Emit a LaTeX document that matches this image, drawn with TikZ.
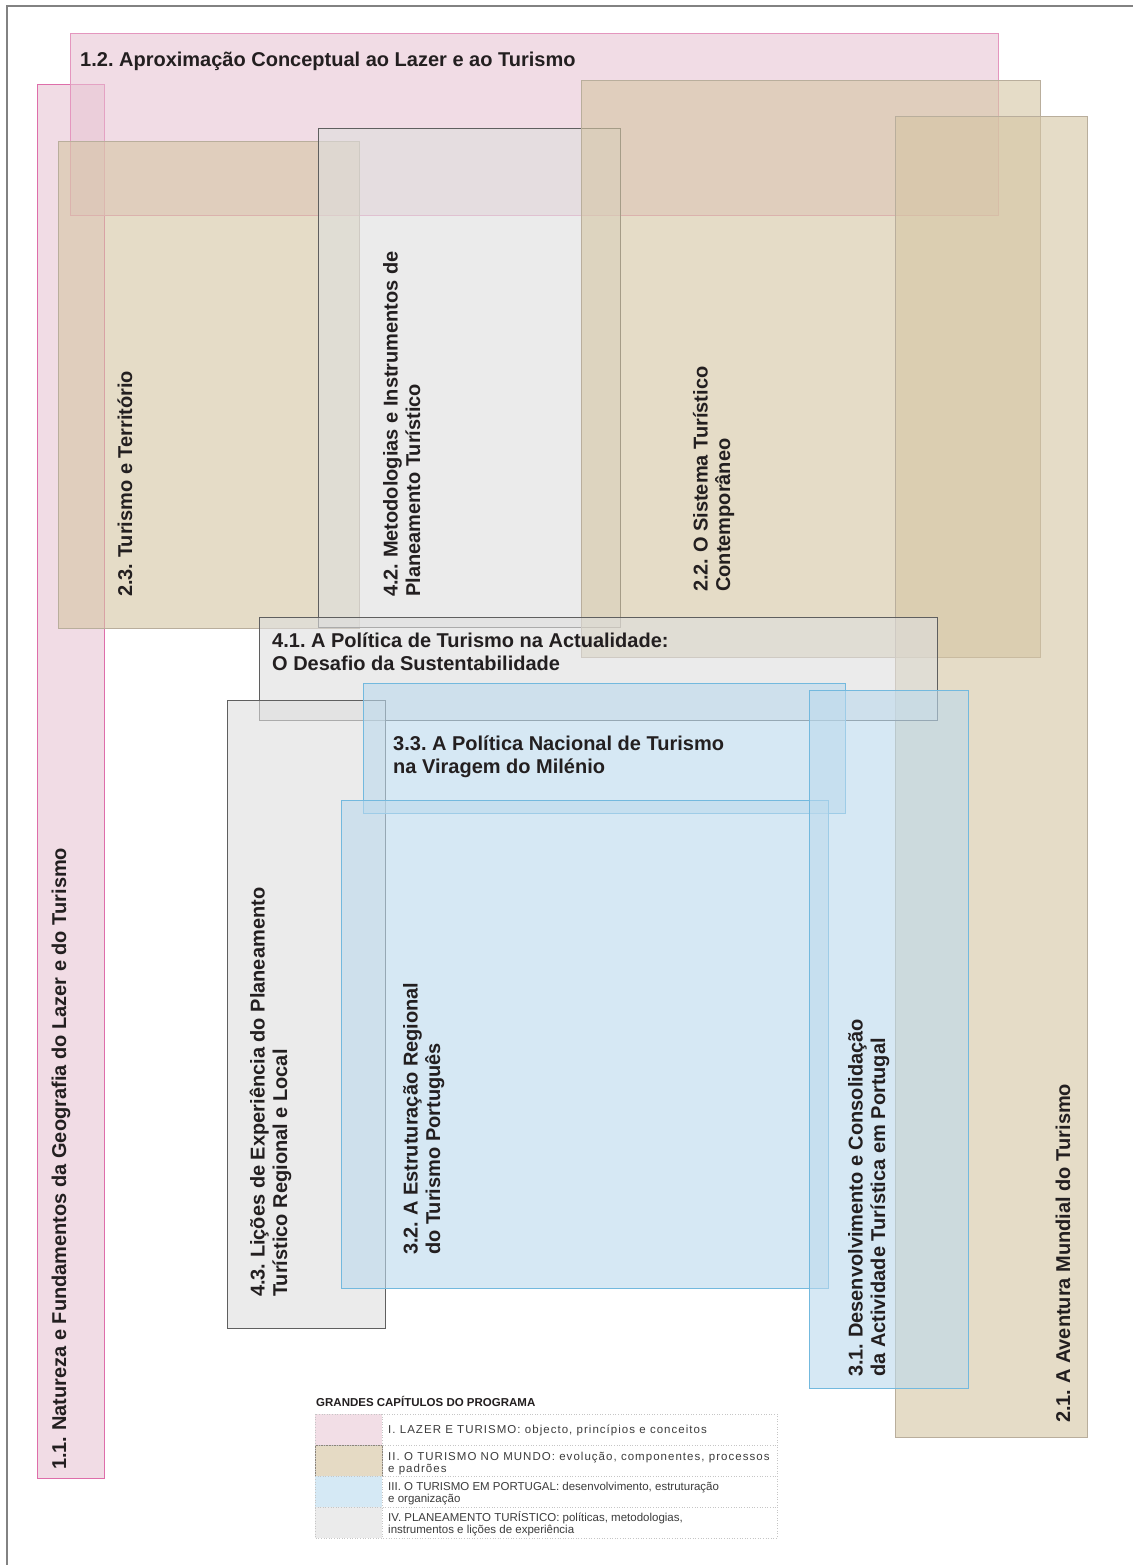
\documentclass[tikz,border=0pt]{standalone}
\usepackage{fontspec}
\setmainfont{Liberation Sans}
\frenchspacing
\definecolor{pinkF}{RGB}{232,198,212}
\definecolor{pinkD}{RGB}{228,150,190}
\definecolor{pinkDD}{RGB}{222,110,170}
\definecolor{tanF}{RGB}{213,197,163}
\definecolor{tanD}{RGB}{185,174,156}
\definecolor{blueF}{RGB}{188,218,237}
\definecolor{blueD}{RGB}{115,185,222}
\definecolor{grayF}{RGB}{222,222,222}
\definecolor{grayD}{RGB}{95,95,95}
\definecolor{txt}{RGB}{35,31,32}
\definecolor{legtxt}{RGB}{60,60,60}
\definecolor{frame}{RGB}{130,130,130}
\begin{document}
\begin{tikzpicture}[x=1pt,y=-1pt,
  box/.style={draw, line width=0.9pt, inner sep=0pt, outer sep=0pt, anchor=north west, fill opacity=0.6},
  lab/.style={font=\fontsize{20}{22.5}\selectfont\bfseries, text=txt, inner sep=0pt, align=left},
  vlab/.style={lab, rotate=90, anchor=base west},
  hlab/.style={lab, anchor=base west},
  swatch/.style={inner sep=0pt, outer sep=0pt, anchor=north west, minimum width=67pt, minimum height=31pt},
  legt/.style={font=\fontsize{11.5}{12}\selectfont, text=legtxt, inner sep=0pt, anchor=base west, align=left},
  spaced/.style={font=\fontsize{11.5}{12}\selectfont\addfontfeature{LetterSpace=9}}
]
\useasboundingbox (0,0) rectangle (1133,1565);
\fill[white] (0,0) rectangle (1133,1565);
\draw[frame, line width=1.2pt] (7,1565) -- (7,6) -- (1133,6);

% boxes
\node[box, fill=pinkF, draw=pinkDD, minimum width=67pt, minimum height=1394pt] (b11) at (37,84) {};
\node[box, fill=pinkF, draw=pinkD, minimum width=928pt, minimum height=182pt] (b12) at (70,33) {};
\node[box, fill=tanF, draw=tanD, minimum width=301pt, minimum height=487pt] (b23) at (58,141) {};
\node[box, fill=grayF, draw=grayD, minimum width=302pt, minimum height=499pt] (b42) at (318,128) {};
\node[box, fill=tanF, draw=tanD, minimum width=459pt, minimum height=577pt] (b22) at (581,80) {};
\node[box, fill=tanF, draw=tanD, minimum width=192pt, minimum height=1321pt] (b21) at (895,116) {};
\node[box, fill=grayF, draw=grayD, minimum width=678pt, minimum height=103pt] (b41) at (259,617) {};
\node[box, fill=grayF, draw=grayD, minimum width=158pt, minimum height=628pt] (b43) at (227,700) {};
\node[box, fill=blueF, draw=blueD, minimum width=482pt, minimum height=130pt] (b33) at (363,683) {};
\node[box, fill=blueF, draw=blueD, minimum width=487pt, minimum height=488pt] (b32) at (341,800) {};
\node[box, fill=blueF, draw=blueD, minimum width=159pt, minimum height=698pt] (b31) at (809,690) {};

% labels (anchor = baseline of the last line)
\node[hlab] (t12) at (80,67) {1.2. Aproximação Conceptual ao Lazer e ao Turismo};
\node[vlab] (t11) at (66,1470) {1.1. Natureza e Fundamentos da Geografia do Lazer e do Turismo};
\node[vlab] (t23) at (132,597) {2.3. Turismo e Território};
\node[vlab] (t42) at (420,597) {4.2. Metodologias e Instrumentos de\\Planeamento Turístico};
\node[vlab] (t22) at (730,592) {2.2. O Sistema Turístico\\Contemporâneo};
\node[hlab] (t41) at (272,670) {4.1. A Política de Turismo na Actualidade:\\O Desafio da Sustentabilidade};
\node[hlab] (t33) at (393,773) {3.3. A Política Nacional de Turismo\\na Viragem do Milénio};
\node[vlab] (t43) at (287,1297) {4.3. Lições de Experiência do Planeamento\\Turístico Regional e Local};
\node[vlab] (t32) at (440,1255) {3.2. A Estruturação Regional\\do Turismo Português};
\node[vlab] (t31) at (885,1377) {3.1. Desenvolvimento e Consolidação\\da Actividade Turística em Portugal};
\node[vlab] (t21) at (1070,1423) {2.1. A Aventura Mundial do Turismo};

% legend
\node[legt, font=\fontsize{11.5}{12}\selectfont\bfseries, text=txt] (lh) at (316,1406) {GRANDES CAPÍTULOS DO PROGRAMA};
\node[swatch, fill={rgb,255:red,242;green,222;blue,230}] (s1) at (315,1414) {};
\node[swatch, fill={rgb,255:red,229;green,218;blue,196}, draw={rgb,255:red,140;green,132;blue,120}, line width=0.9pt] (s2) at (315,1445) {};
\node[swatch, fill={rgb,255:red,213;green,233;blue,245}] (s3) at (315,1476) {};
\node[swatch, fill={rgb,255:red,235;green,235;blue,235}] (s4) at (315,1507) {};
\draw[gray!45, line width=0.6pt, dotted] (315,1414) rectangle (777,1538)
  (315,1445) -- (777,1445) (315,1476) -- (777,1476) (315,1507) -- (777,1507)
  (382,1414) -- (382,1538);
\node[legt, spaced] (l1) at (388,1433) {I. LAZER E TURISMO: objecto, princípios e conceitos};
\node[legt, spaced] (l2) at (388,1472) {II. O TURISMO NO MUNDO: evolução, componentes, processos\\e padrões};
\node[legt] (l3) at (388,1502) {III. O TURISMO EM PORTUGAL: desenvolvimento, estruturação\\e organização};
\node[legt] (l4) at (388,1533) {IV. PLANEAMENTO TURÍSTICO: políticas, metodologias,\\instrumentos e lições de experiência};
\end{tikzpicture}
\end{document}
